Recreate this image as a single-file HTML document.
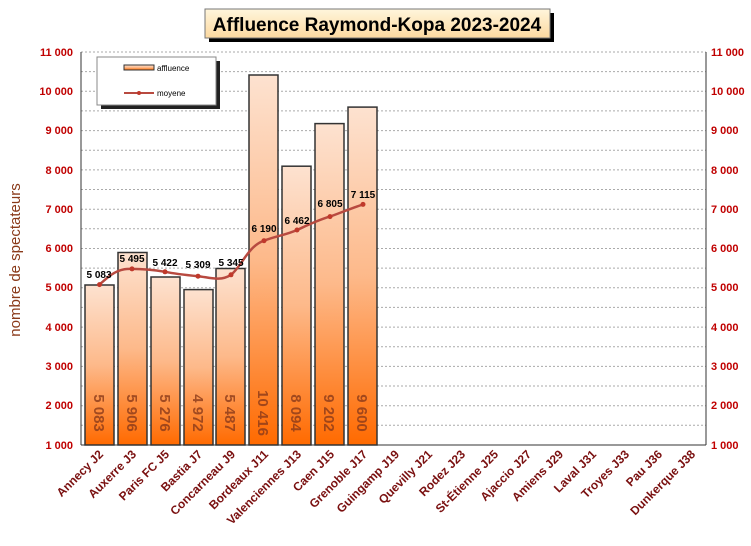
<!DOCTYPE html>
<html><head><meta charset="utf-8"><style>body{margin:0;background:#fff}svg{display:block}</style></head><body>
<svg width="751" height="546" viewBox="0 0 751 546" xmlns="http://www.w3.org/2000/svg" font-family="Liberation Sans, Arial, sans-serif">
<defs>
<linearGradient id="g" x1="0" y1="0" x2="0" y2="1"><stop offset="0" stop-color="#fde2d0"/><stop offset="0.5" stop-color="#fdb98a"/><stop offset="1" stop-color="#ff6a00"/></linearGradient>
<linearGradient id="t" x1="0" y1="0" x2="0" y2="1"><stop offset="0" stop-color="#fff6dc"/><stop offset="1" stop-color="#fcd9a0"/></linearGradient>
</defs>
<rect x="209" y="13" width="345" height="29" fill="#000"/>
<rect x="205" y="9" width="345" height="29" fill="url(#t)" stroke="#777"/>
<text x="377" y="31" text-anchor="middle" font-size="19" font-weight="bold">Affluence Raymond-Kopa 2023-2024</text>
<g stroke="#aaa" stroke-dasharray="2,2" stroke-width="1">
<line x1="81" x2="706" y1="52" y2="52"/><line x1="81" x2="706" y1="71.6" y2="71.6"/><line x1="81" x2="706" y1="91.3" y2="91.3"/><line x1="81" x2="706" y1="110.9" y2="110.9"/><line x1="81" x2="706" y1="130.6" y2="130.6"/><line x1="81" x2="706" y1="150.2" y2="150.2"/><line x1="81" x2="706" y1="169.9" y2="169.9"/><line x1="81" x2="706" y1="189.5" y2="189.5"/><line x1="81" x2="706" y1="209.2" y2="209.2"/><line x1="81" x2="706" y1="228.8" y2="228.8"/><line x1="81" x2="706" y1="248.5" y2="248.5"/><line x1="81" x2="706" y1="268.1" y2="268.1"/><line x1="81" x2="706" y1="287.8" y2="287.8"/><line x1="81" x2="706" y1="307.4" y2="307.4"/><line x1="81" x2="706" y1="327.1" y2="327.1"/><line x1="81" x2="706" y1="346.7" y2="346.7"/><line x1="81" x2="706" y1="366.4" y2="366.4"/><line x1="81" x2="706" y1="386" y2="386"/><line x1="81" x2="706" y1="405.7" y2="405.7"/><line x1="81" x2="706" y1="425.3" y2="425.3"/>
</g>
<g stroke="#333" stroke-width="1.5" fill="url(#g)">
<rect x="85" y="285" width="29" height="160"/>
<rect x="118" y="252.5" width="29" height="192.5"/>
<rect x="151" y="277" width="29" height="168"/>
<rect x="184" y="289.6" width="29" height="155.4"/>
<rect x="216" y="268.5" width="29" height="176.5"/>
<rect x="249" y="75" width="29" height="370"/>
<rect x="282" y="166.2" width="29" height="278.8"/>
<rect x="315" y="123.6" width="29" height="321.4"/>
<rect x="348" y="107.1" width="29" height="337.9"/>
</g>
<g fill="#8a3a1a" font-size="15" font-weight="bold" opacity="0.8">
<text transform="translate(94,413) rotate(90)" text-anchor="middle">5 083</text>
<text transform="translate(127,413) rotate(90)" text-anchor="middle">5 906</text>
<text transform="translate(160,413) rotate(90)" text-anchor="middle">5 276</text>
<text transform="translate(193,413) rotate(90)" text-anchor="middle">4 972</text>
<text transform="translate(225,413) rotate(90)" text-anchor="middle">5 487</text>
<text transform="translate(258,413) rotate(90)" text-anchor="middle">10 416</text>
<text transform="translate(291,413) rotate(90)" text-anchor="middle">8 094</text>
<text transform="translate(324,413) rotate(90)" text-anchor="middle">9 202</text>
<text transform="translate(357,413) rotate(90)" text-anchor="middle">9 600</text>
</g>
<path d="M99.5,284.6 C110,275 118,268 132,268.9 C146,269 154,270 165,271.8 C176,274 186,275 198,276.2 C208,277 220,282 231,274.8 C242,266 248,246 264,240.7 C276,236 286,235 297,230 C308,225 318,220 330,216.6 C340,213 352,208 363,204.4" fill="none" stroke="#b84a40" stroke-width="2.5"/>
<g fill="#c0392b">
<circle cx="99.5" cy="284.6" r="2.5"/><circle cx="132" cy="268.9" r="2.5"/><circle cx="165" cy="271.8" r="2.5"/><circle cx="198" cy="276.2" r="2.5"/><circle cx="231" cy="274.8" r="2.5"/><circle cx="264" cy="240.7" r="2.5"/><circle cx="297" cy="230" r="2.5"/><circle cx="330" cy="216.6" r="2.5"/><circle cx="363" cy="204.4" r="2.5"/>
</g>
<g font-size="10" font-weight="bold" text-anchor="middle" fill="#000">
<text x="99" y="278">5 083</text><text x="132" y="262">5 495</text><text x="165" y="266">5 422</text><text x="198" y="268">5 309</text><text x="231" y="266">5 345</text><text x="264" y="232">6 190</text><text x="297" y="224">6 462</text><text x="330" y="207">6 805</text><text x="363" y="198">7 115</text>
</g>
<line x1="81" y1="52" x2="81" y2="445" stroke="#333"/><line x1="706" y1="52" x2="706" y2="445" stroke="#333"/>
<line x1="81" y1="445" x2="706" y2="445" stroke="#333"/>
<g font-size="11" font-weight="bold" fill="#c00000">
<g text-anchor="end">
<text x="73" y="56">11 000</text><text x="73" y="95">10 000</text><text x="73" y="134">9 000</text><text x="73" y="174">8 000</text><text x="73" y="213">7 000</text><text x="73" y="252">6 000</text><text x="73" y="291">5 000</text><text x="73" y="331">4 000</text><text x="73" y="370">3 000</text><text x="73" y="409">2 000</text><text x="73" y="449">1 000</text>
</g>
<text x="711" y="56">11 000</text><text x="711" y="95">10 000</text><text x="711" y="134">9 000</text><text x="711" y="174">8 000</text><text x="711" y="213">7 000</text><text x="711" y="252">6 000</text><text x="711" y="291">5 000</text><text x="711" y="331">4 000</text><text x="711" y="370">3 000</text><text x="711" y="409">2 000</text><text x="711" y="449">1 000</text>
</g>
<text transform="translate(20,260) rotate(-90)" text-anchor="middle" font-size="15" fill="#8a3a1a">nombre de spectateurs</text>
<g font-size="12" font-weight="bold" fill="#7a1010" text-anchor="end">
<text transform="translate(104,455) rotate(-45)">Annecy J2</text>
<text transform="translate(137,455) rotate(-45)">Auxerre J3</text>
<text transform="translate(170,455) rotate(-45)">Paris FC J5</text>
<text transform="translate(203,455) rotate(-45)">Bastia J7</text>
<text transform="translate(236,455) rotate(-45)">Concarneau J9</text>
<text transform="translate(269,455) rotate(-45)">Bordeaux J11</text>
<text transform="translate(302,455) rotate(-45)">Valenciennes J13</text>
<text transform="translate(335,455) rotate(-45)">Caen J15</text>
<text transform="translate(368,455) rotate(-45)">Grenoble J17</text>
<text transform="translate(400,455) rotate(-45)">Guingamp J19</text>
<text transform="translate(433,455) rotate(-45)">Quevilly J21</text>
<text transform="translate(466,455) rotate(-45)">Rodez J23</text>
<text transform="translate(499,455) rotate(-45)">St-Étienne J25</text>
<text transform="translate(532,455) rotate(-45)">Ajaccio J27</text>
<text transform="translate(564,455) rotate(-45)">Amiens J29</text>
<text transform="translate(597,455) rotate(-45)">Laval J31</text>
<text transform="translate(630,455) rotate(-45)">Troyes J33</text>
<text transform="translate(663,455) rotate(-45)">Pau J36</text>
<text transform="translate(696,455) rotate(-45)">Dunkerque J38</text>
</g>
<rect x="101" y="61" width="119" height="48" fill="#222"/>
<rect x="97" y="57" width="119" height="48" fill="#fff" stroke="#888"/>
<rect x="124" y="65" width="30" height="5" fill="url(#g)" stroke="#333"/>
<text x="157" y="71" font-size="8">affluence</text>
<line x1="124" y1="93" x2="154" y2="93" stroke="#b84a40" stroke-width="2"/><circle cx="139" cy="93" r="2" fill="#c0392b"/>
<text x="157" y="96" font-size="8">moyene</text>
</svg>
</body></html>
